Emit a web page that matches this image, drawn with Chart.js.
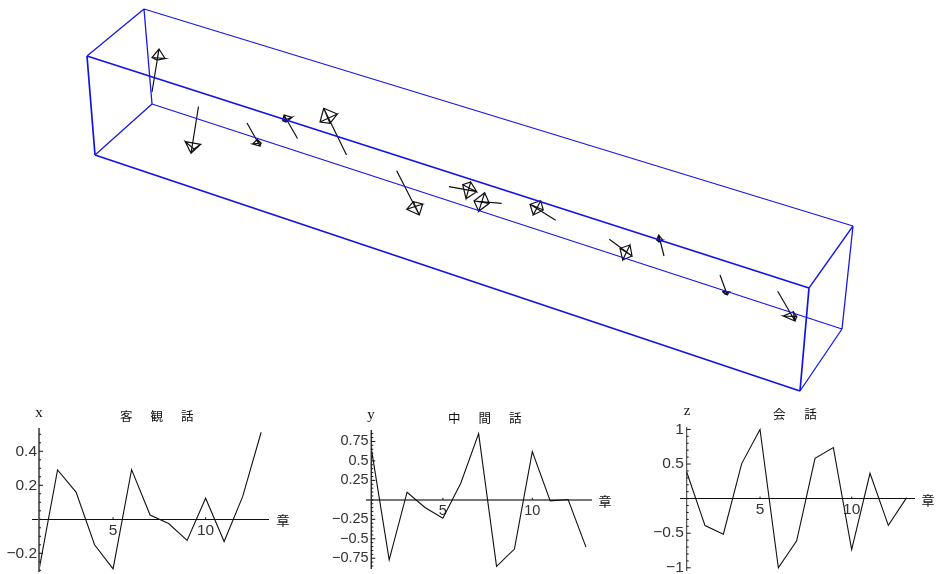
<!DOCTYPE html>
<html><head><meta charset="utf-8">
<style>
html,body{margin:0;padding:0;background:#fff;width:936px;height:574px;overflow:hidden}
canvas{position:absolute;display:block}
</style>
<script src="https://cdn.jsdelivr.net/npm/chart.js@4"></script>
</head><body>
<canvas id="box" width="936" height="400" style="left:0;top:0"></canvas>
<canvas id="cx" width="310" height="179" style="left:0;top:395px"></canvas>
<canvas id="cy" width="310" height="179" style="left:320px;top:395px"></canvas>
<canvas id="cz" width="306" height="179" style="left:630px;top:395px"></canvas>
<script>
// ---- data ----
const chapters = [1,2,3,4,5,6,7,8,9,10,11,12,13];
const xValues = [-0.298,0.29,0.16,-0.15,-0.292,0.292,0.025,-0.025,-0.124,0.124,-0.131,0.133,0.512];
const yValues = [0.66,-0.77,0.098,-0.098,-0.235,0.214,0.85,-0.855,-0.632,0.62,-0.013,0.004,-0.607];
const zValues = [0.385,-0.39,-0.515,0.506,1,-1,-0.61,0.583,0.737,-0.737,0.366,-0.386,0.015];
const xMajor = [-0.2,0.2,0.4];
const yMajor = [-0.75,-0.5,-0.25,0.25,0.5,0.75];
const zMajor = [-1,-0.5,0.5,1];
const chapterTicks = [5,10];

// projected 3D box corners
const boxCorners = {A:[87,56],B:[144,9],C:[853,226],D:[809,288],E:[95,155],F:[152,104],G:[842,329],H:[800,391]};
const frontEdges = ['AD','DH','HE','EA'];
const backEdges = ['AB','BC','CD','EF','FG','GH','BF','CG'];
// projected arrows
const arrowTails = [[152,92],[198.5,106.5],[247,123],[297.5,138.5],[346.5,155],[396.7,170.7],[449,186.7],[501.7,203.3],[555.7,220.3],[609.3,239.3],[664,256],[720,275],[777.7,291.3]];
const arrowTips = [[159,49],[191,153.3],[260,146],[284,115],[323.7,108.3],[419.3,215],[476.7,191.7],[474,201],[530,204.3],[632,256],[658.7,235],[727.3,295],[795,321]];
const arrowBases = [
 [[152,57.5],[165,58.5],[157,60]],
 [[185.3,141.7],[200.7,144.3],[194,149]],
 [[252.7,144],[257.3,139.3],[261,143]],
 [[282.7,120.7],[292,117.3],[286,122]],
 [[320,122],[337.3,114],[330,123.3]],
 [[406.7,209.3],[422.7,204],[413.3,201.7]],
 [[470.7,182],[462.7,184.7],[466,198.7]],
 [[484.7,192.7],[478.7,211.3],[489.3,203.3]],
 [[540.7,200.7],[533.3,215],[543.3,210]],
 [[630,245],[620,248.3],[622.7,260]],
 [[656.7,240],[662.7,240],[659,242]],
 [[722.3,291.3],[729.3,292],[725,294]],
 [[783.3,316],[793.3,311.7],[796.7,316.7]]
];

// ---- top: box + arrows ----
function pt(p){return {x:p[0],y:p[1]};}
function edgePath(list){
  const out=[];
  list.forEach(e=>{out.push(pt(boxCorners[e[0]]),pt(boxCorners[e[1]]),{x:NaN,y:NaN});});
  return out;
}
function arrowPath(){
  const out=[];
  arrowTails.forEach((t,i)=>{
    const tip=arrowTips[i],b=arrowBases[i];
    out.push(pt(t),pt(tip),{x:NaN,y:NaN});
    out.push(pt(b[0]),pt(b[1]),pt(b[2]),pt(b[0]),pt(tip),pt(b[1]),{x:NaN,y:NaN});
    out.push(pt(b[2]),pt(tip),{x:NaN,y:NaN});
  });
  return out;
}
Chart.defaults.animation=false;
Chart.defaults.responsive=false;
Chart.defaults.devicePixelRatio=1;
Chart.defaults.plugins.legend.display=false;
Chart.defaults.plugins.tooltip.enabled=false;

new Chart(document.getElementById('box'),{
  type:'scatter',
  data:{datasets:[
    {data:edgePath(backEdges),showLine:true,borderColor:'#1717e8',borderWidth:1.3,pointRadius:0,spanGaps:false},
    {data:edgePath(frontEdges),showLine:true,borderColor:'#1212e6',borderWidth:1.7,pointRadius:0,spanGaps:false},
    {data:arrowPath(),showLine:true,borderColor:'#111',borderWidth:1.2,pointRadius:0,spanGaps:false}
  ]},
  options:{
    layout:{padding:0},
    scales:{
      x:{type:'linear',min:0,max:936,display:false},
      y:{type:'linear',min:0,max:400,reverse:true,display:false}
    }
  }
});

// ---- bottom panels ----
const tickAndLabelPlugin={
  id:'panelMarks',
  afterDraw(chart,_,o){
    const c=chart.ctx,sx=chart.scales.x,sy=chart.scales.y;
    const ax=sx.getPixelForValue(1),ay=sy.getPixelForValue(0);
    c.save();
    // vertical axis line at chapter 1
    c.strokeStyle=o.yColor;c.lineWidth=o.yWidth;
    c.beginPath();c.moveTo(ax,chart.chartArea.top);c.lineTo(ax,chart.chartArea.bottom);c.stroke();
    c.strokeStyle='#111';c.lineWidth=1;
    // inward tick marks
    sy.ticks.forEach(t=>{
      const p=sy.getPixelForValue(t.value);
      const len=o.major.some(m=>Math.abs(m-t.value)<1e-6)?4:2;
      c.beginPath();c.moveTo(ax,p);c.lineTo(ax+len,p);c.stroke();
    });
    chapterTicks.forEach(v=>{
      const p=sx.getPixelForValue(v);
      c.beginPath();c.moveTo(p,ay);c.lineTo(p,ay-2);c.stroke();
    });
    c.fillStyle='#111';
    c.textBaseline='middle';
    // axis name
    c.font='15px "Liberation Serif"';c.textAlign='center';
    c.fillText(o.axisName,o.axisNameAt[0],o.axisNameAt[1]);
    // chapter label
    c.font='13px "Noto Sans CJK JP"';
    c.fillText('章',o.chapterAt,ay+1);
    // title
    c.font='12.5px "Noto Sans CJK JP"';c.textAlign='left';
    c.letterSpacing=o.titleSpacing+'px';
    c.fillText(o.title,o.titleAt[0],o.titleAt[1]);
    c.letterSpacing='0px';
    c.restore();
  }
};
function fmt(v){return (v<0?'\u2212':'')+String(Math.abs(v));}
const noMargins=s=>{s.paddingTop=s.paddingBottom=s.paddingLeft=s.paddingRight=0;s._margins={left:0,right:0,top:0,bottom:0};};
function panel(id,values,cfg){
  new Chart(document.getElementById(id),{
    type:'line',
    plugins:[tickAndLabelPlugin],
    data:{datasets:[{
      data:chapters.map((c,i)=>({x:c,y:values[i]})),
      borderColor:'#111',borderWidth:1.1,pointRadius:0,tension:0,clip:false
    }]},
    options:{
      layout:{padding:cfg.padding},
      plugins:{panelMarks:{major:cfg.major,axisName:cfg.axisName,axisNameAt:cfg.axisNameAt,chapterAt:cfg.chapterAt,title:cfg.title,titleAt:cfg.titleAt,titleSpacing:cfg.titleSpacing,yColor:cfg.yColor,yWidth:cfg.yWidth}},
      scales:{
        x:{type:'linear',min:cfg.xRange[0],max:cfg.xRange[1],position:{y:0},
           grid:{display:false,drawTicks:true,tickLength:2},
           border:{display:true,color:cfg.xColor,width:cfg.xWidth},
           afterBuildTicks:s=>{s.ticks=chapterTicks.map(v=>({value:v}));},
           afterFit:noMargins,
           ticks:{autoSkip:false,maxRotation:0,padding:0,color:'#333',font:{family:'Liberation Sans',size:cfg.fontSize},callback:v=>String(v)}},
        y:{type:'linear',min:cfg.yRange[0],max:cfg.yRange[1],position:{x:cfg.labelX},
           grid:{display:false,drawTicks:false},
           border:{display:false},
           afterBuildTicks:s=>{
             const arr=[];const st=cfg.minorStep;
             for(let k=Math.ceil(cfg.yRange[0]/st);k<=Math.floor(cfg.yRange[1]/st);k++)arr.push({value:+(k*st).toFixed(4)});
             s.ticks=arr;
           },
           afterFit:noMargins,
           ticks:{autoSkip:false,padding:0,color:'#333',font:{family:'Liberation Sans',size:cfg.fontSize},
             callback:v=>cfg.major.some(m=>Math.abs(m-v)<1e-6)?fmt(v):''}}
      }
    }
  });
}
panel('cx',xValues,{padding:{left:32,right:42,top:33,bottom:2},xRange:[0.62,13.37],yRange:[-0.31,0.537],labelX:0.89,
  major:xMajor,minorStep:0.05,fontSize:15.5,axisName:'x',axisNameAt:[39,18],chapterAt:283,title:'客 観 話',titleAt:[120,21],titleSpacing:7.6,
  xColor:'#111',xWidth:1,yColor:'#666',yWidth:2});
panel('cy',yValues,{padding:{left:47,right:39,top:35,bottom:5},xRange:[0.76,13.28],yRange:[-0.888,0.897],labelX:0.85,
  major:yMajor,minorStep:0.05,fontSize:14.5,axisName:'y',axisNameAt:[51,20],chapterAt:285,title:'中 間 話',titleAt:[128,23],titleSpacing:7.6,
  xColor:'#777',xWidth:2,yColor:'#333',yWidth:1.5});
panel('cz',zValues,{padding:{left:50,right:22,top:32,bottom:3},xRange:[0.635,13.4],yRange:[-1.046,1.035],labelX:0.84,
  major:zMajor,minorStep:0.1,fontSize:15.5,axisName:'z',axisNameAt:[57,16],chapterAt:298,title:'会 話',titleAt:[143,19],titleSpacing:8,
  xColor:'#111',xWidth:1,yColor:'#333',yWidth:1});
</script>
</body></html>
